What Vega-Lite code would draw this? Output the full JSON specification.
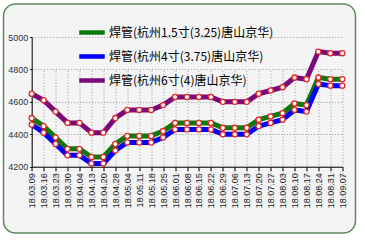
{
  "$schema": "https://vega.github.io/schema/vega-lite/v6.json",
  "width": 352,
  "height": 229,
  "autosize": "none",
  "padding": {"left": 3.5, "top": 4, "right": 9, "bottom": 12},
  "background": "#ffffff",
  "config": {
    "view": {"fill": "#f4f4f4", "stroke": "#5b8a5b", "strokeWidth": 1.5, "cornerRadius": 12},
    "font": "Liberation Sans"
  },
  "datasets": {
    "prices": [
      {"d": "18.03.09", "s": "焊管(杭州1.5寸(3.25)唐山京华)", "v": 4500},
      {"d": "18.03.16", "s": "焊管(杭州1.5寸(3.25)唐山京华)", "v": 4450},
      {"d": "18.03.23", "s": "焊管(杭州1.5寸(3.25)唐山京华)", "v": 4380},
      {"d": "18.03.30", "s": "焊管(杭州1.5寸(3.25)唐山京华)", "v": 4310},
      {"d": "18.04.04", "s": "焊管(杭州1.5寸(3.25)唐山京华)", "v": 4310},
      {"d": "18.04.13", "s": "焊管(杭州1.5寸(3.25)唐山京华)", "v": 4260},
      {"d": "18.04.20", "s": "焊管(杭州1.5寸(3.25)唐山京华)", "v": 4260},
      {"d": "18.04.28", "s": "焊管(杭州1.5寸(3.25)唐山京华)", "v": 4340},
      {"d": "18.05.04", "s": "焊管(杭州1.5寸(3.25)唐山京华)", "v": 4390},
      {"d": "18.05.11", "s": "焊管(杭州1.5寸(3.25)唐山京华)", "v": 4390},
      {"d": "18.05.18", "s": "焊管(杭州1.5寸(3.25)唐山京华)", "v": 4390},
      {"d": "18.05.25", "s": "焊管(杭州1.5寸(3.25)唐山京华)", "v": 4420},
      {"d": "18.06.01", "s": "焊管(杭州1.5寸(3.25)唐山京华)", "v": 4470},
      {"d": "18.06.08", "s": "焊管(杭州1.5寸(3.25)唐山京华)", "v": 4470},
      {"d": "18.06.15", "s": "焊管(杭州1.5寸(3.25)唐山京华)", "v": 4470},
      {"d": "18.06.22", "s": "焊管(杭州1.5寸(3.25)唐山京华)", "v": 4470},
      {"d": "18.06.29", "s": "焊管(杭州1.5寸(3.25)唐山京华)", "v": 4440},
      {"d": "18.07.06", "s": "焊管(杭州1.5寸(3.25)唐山京华)", "v": 4440},
      {"d": "18.07.13", "s": "焊管(杭州1.5寸(3.25)唐山京华)", "v": 4440},
      {"d": "18.07.20", "s": "焊管(杭州1.5寸(3.25)唐山京华)", "v": 4490},
      {"d": "18.07.27", "s": "焊管(杭州1.5寸(3.25)唐山京华)", "v": 4510},
      {"d": "18.08.03", "s": "焊管(杭州1.5寸(3.25)唐山京华)", "v": 4530},
      {"d": "18.08.10", "s": "焊管(杭州1.5寸(3.25)唐山京华)", "v": 4590},
      {"d": "18.08.17", "s": "焊管(杭州1.5寸(3.25)唐山京华)", "v": 4580},
      {"d": "18.08.24", "s": "焊管(杭州1.5寸(3.25)唐山京华)", "v": 4750},
      {"d": "18.08.31", "s": "焊管(杭州1.5寸(3.25)唐山京华)", "v": 4740},
      {"d": "18.09.07", "s": "焊管(杭州1.5寸(3.25)唐山京华)", "v": 4740},
      {"d": "18.03.09", "s": "焊管(杭州4寸(3.75)唐山京华)", "v": 4460},
      {"d": "18.03.16", "s": "焊管(杭州4寸(3.75)唐山京华)", "v": 4410},
      {"d": "18.03.23", "s": "焊管(杭州4寸(3.75)唐山京华)", "v": 4340},
      {"d": "18.03.30", "s": "焊管(杭州4寸(3.75)唐山京华)", "v": 4270},
      {"d": "18.04.04", "s": "焊管(杭州4寸(3.75)唐山京华)", "v": 4270},
      {"d": "18.04.13", "s": "焊管(杭州4寸(3.75)唐山京华)", "v": 4220},
      {"d": "18.04.20", "s": "焊管(杭州4寸(3.75)唐山京华)", "v": 4220},
      {"d": "18.04.28", "s": "焊管(杭州4寸(3.75)唐山京华)", "v": 4300},
      {"d": "18.05.04", "s": "焊管(杭州4寸(3.75)唐山京华)", "v": 4350},
      {"d": "18.05.11", "s": "焊管(杭州4寸(3.75)唐山京华)", "v": 4350},
      {"d": "18.05.18", "s": "焊管(杭州4寸(3.75)唐山京华)", "v": 4350},
      {"d": "18.05.25", "s": "焊管(杭州4寸(3.75)唐山京华)", "v": 4380},
      {"d": "18.06.01", "s": "焊管(杭州4寸(3.75)唐山京华)", "v": 4430},
      {"d": "18.06.08", "s": "焊管(杭州4寸(3.75)唐山京华)", "v": 4430},
      {"d": "18.06.15", "s": "焊管(杭州4寸(3.75)唐山京华)", "v": 4430},
      {"d": "18.06.22", "s": "焊管(杭州4寸(3.75)唐山京华)", "v": 4430},
      {"d": "18.06.29", "s": "焊管(杭州4寸(3.75)唐山京华)", "v": 4400},
      {"d": "18.07.06", "s": "焊管(杭州4寸(3.75)唐山京华)", "v": 4400},
      {"d": "18.07.13", "s": "焊管(杭州4寸(3.75)唐山京华)", "v": 4400},
      {"d": "18.07.20", "s": "焊管(杭州4寸(3.75)唐山京华)", "v": 4450},
      {"d": "18.07.27", "s": "焊管(杭州4寸(3.75)唐山京华)", "v": 4470},
      {"d": "18.08.03", "s": "焊管(杭州4寸(3.75)唐山京华)", "v": 4490},
      {"d": "18.08.10", "s": "焊管(杭州4寸(3.75)唐山京华)", "v": 4550},
      {"d": "18.08.17", "s": "焊管(杭州4寸(3.75)唐山京华)", "v": 4540},
      {"d": "18.08.24", "s": "焊管(杭州4寸(3.75)唐山京华)", "v": 4710},
      {"d": "18.08.31", "s": "焊管(杭州4寸(3.75)唐山京华)", "v": 4700},
      {"d": "18.09.07", "s": "焊管(杭州4寸(3.75)唐山京华)", "v": 4700},
      {"d": "18.03.09", "s": "焊管(杭州6寸(4)唐山京华)", "v": 4650},
      {"d": "18.03.16", "s": "焊管(杭州6寸(4)唐山京华)", "v": 4610},
      {"d": "18.03.23", "s": "焊管(杭州6寸(4)唐山京华)", "v": 4540},
      {"d": "18.03.30", "s": "焊管(杭州6寸(4)唐山京华)", "v": 4470},
      {"d": "18.04.04", "s": "焊管(杭州6寸(4)唐山京华)", "v": 4470},
      {"d": "18.04.13", "s": "焊管(杭州6寸(4)唐山京华)", "v": 4410},
      {"d": "18.04.20", "s": "焊管(杭州6寸(4)唐山京华)", "v": 4410},
      {"d": "18.04.28", "s": "焊管(杭州6寸(4)唐山京华)", "v": 4500},
      {"d": "18.05.04", "s": "焊管(杭州6寸(4)唐山京华)", "v": 4550},
      {"d": "18.05.11", "s": "焊管(杭州6寸(4)唐山京华)", "v": 4550},
      {"d": "18.05.18", "s": "焊管(杭州6寸(4)唐山京华)", "v": 4550},
      {"d": "18.05.25", "s": "焊管(杭州6寸(4)唐山京华)", "v": 4580},
      {"d": "18.06.01", "s": "焊管(杭州6寸(4)唐山京华)", "v": 4630},
      {"d": "18.06.08", "s": "焊管(杭州6寸(4)唐山京华)", "v": 4630},
      {"d": "18.06.15", "s": "焊管(杭州6寸(4)唐山京华)", "v": 4630},
      {"d": "18.06.22", "s": "焊管(杭州6寸(4)唐山京华)", "v": 4630},
      {"d": "18.06.29", "s": "焊管(杭州6寸(4)唐山京华)", "v": 4600},
      {"d": "18.07.06", "s": "焊管(杭州6寸(4)唐山京华)", "v": 4600},
      {"d": "18.07.13", "s": "焊管(杭州6寸(4)唐山京华)", "v": 4600},
      {"d": "18.07.20", "s": "焊管(杭州6寸(4)唐山京华)", "v": 4650},
      {"d": "18.07.27", "s": "焊管(杭州6寸(4)唐山京华)", "v": 4670},
      {"d": "18.08.03", "s": "焊管(杭州6寸(4)唐山京华)", "v": 4690},
      {"d": "18.08.10", "s": "焊管(杭州6寸(4)唐山京华)", "v": 4750},
      {"d": "18.08.17", "s": "焊管(杭州6寸(4)唐山京华)", "v": 4740},
      {"d": "18.08.24", "s": "焊管(杭州6寸(4)唐山京华)", "v": 4910},
      {"d": "18.08.31", "s": "焊管(杭州6寸(4)唐山京华)", "v": 4900},
      {"d": "18.09.07", "s": "焊管(杭州6寸(4)唐山京华)", "v": 4900}
    ]
  },
  "data": {"name": "prices"},
  "encoding": {
    "x": {
      "field": "d",
      "type": "ordinal",
      "sort": null,
      "scale": {"type": "point", "range": [28.2, 338.8], "padding": 0},
      "axis": {
        "title": null,
        "orient": "bottom",
        "offset": -66.3,
        "labelAngle": 270,
        "labelFontSize": 9,
        "labelFont": "Liberation Sans",
        "labelColor": "#222222",
        "labelPadding": 2,
        "tickSize": 4,
        "tickColor": "#000000",
        "domainColor": "#000000",
        "grid": true,
        "gridColor": "#9a9a9a",
        "gridDash": [1, 2]
      }
    },
    "y": {
      "field": "v",
      "type": "quantitative",
      "scale": {"domain": [4200, 5000], "range": [162.7, 33], "zero": false, "nice": false},
      "axis": {
        "title": null,
        "offset": -28.2,
        "values": [4200, 4400, 4600, 4800, 5000],
        "format": "d",
        "labelFontSize": 9,
        "labelFont": "Liberation Sans",
        "labelColor": "#333333",
        "labelPadding": 2,
        "tickSize": 2,
        "tickColor": "#000000",
        "domainColor": "#000000",
        "grid": true,
        "gridColor": "#9a9a9a",
        "gridDash": [1, 2]
      }
    }
  },
  "layer": [
    {
      "mark": {"type": "line", "strokeWidth": 5, "strokeJoin": "round", "strokeCap": "round"},
      "encoding": {
        "color": {
          "field": "s",
          "type": "nominal",
          "scale": {
            "domain": ["焊管(杭州1.5寸(3.25)唐山京华)", "焊管(杭州4寸(3.75)唐山京华)", "焊管(杭州6寸(4)唐山京华)"],
            "range": ["#0b7a0b", "#0000ff", "#7a0a7a"]
          },
          "legend": {
            "orient": "none",
            "legendX": 73.5,
            "legendY": 13.5,
            "title": null,
            "symbolType": "stroke",
            "symbolStrokeWidth": 4.5,
            "symbolSize": 650,
            "labelFontSize": 12,
            "labelFont": "Noto Sans CJK SC",
            "labelColor": "#000000",
            "labelLimit": 300,
            "labelOffset": 2,
            "rowPadding": -11,
            "padding": 0
          }
        }
      }
    },
    {
      "mark": {"type": "point", "shape": "circle", "filled": false, "fill": "#ffffff", "stroke": "#e02828", "strokeWidth": 1.3, "size": 26, "opacity": 1}
    }
  ]
}
